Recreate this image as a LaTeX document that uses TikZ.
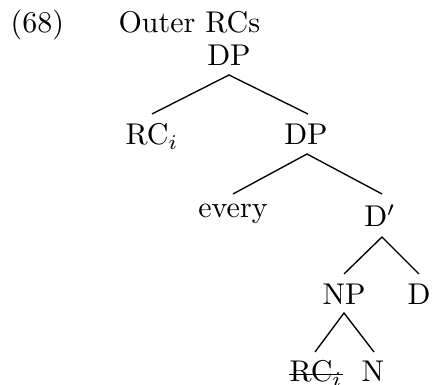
\documentclass[tikz,border=0pt]{standalone}
\begin{document}
\begin{tikzpicture}[x=0.3333pt,y=-0.3333pt,
  lab/.style={anchor=base,inner sep=0pt,font=\fontsize{10}{12}\selectfont},
  edge/.style={line width=0.45pt}]
\useasboundingbox (0,0) rectangle (432,385);
\node[lab,anchor=base west] (ex) at (10,32) {(68)};
\node[lab,anchor=base west] (title) at (118,32) {Outer RCs};
\node[lab] (dp1) at (229,65) {DP};
\node[lab] (rc1) at (152,145) {RC$_i$};
\node[lab] (dp2) at (306,145) {DP};
\node[lab] (every) at (233,218) {every};
\node[lab] (dbar) at (380,227) {D$'$};
\node[lab] (np) at (344,305) {NP};
\node[lab] (d) at (419,305) {D};
\node[lab] (rc2) at (316,382) {RC$_i$};
\node[lab] (n) at (373,382) {N};
\draw[edge] ([yshift=2.4pt]rc2.base west) -- ([yshift=2.4pt]rc2.base east);
\draw[edge] ([yshift=31pt/3]rc1.base) -- ([yshift=-10pt/3]dp1.base) -- ([xshift=2pt/3,yshift=31pt/3]dp2.base);
\draw[edge] ([yshift=24pt/3]every.base) -- ([xshift=1pt/3,yshift=-9pt/3]dp2.base) -- ([xshift=2pt/3,yshift=33pt/3]dbar.base);
\draw[edge] ([yshift=31pt/3]np.base) -- ([xshift=2pt/3,yshift=-10pt/3]dbar.base) -- ([yshift=31pt/3]d.base);
\draw[edge] ([xshift=-1pt/3,yshift=30pt/3]rc2.base) -- ([yshift=-8pt/3]np.base) -- ([xshift=1pt/3,yshift=30pt/3]n.base);
\end{tikzpicture}
\end{document}
